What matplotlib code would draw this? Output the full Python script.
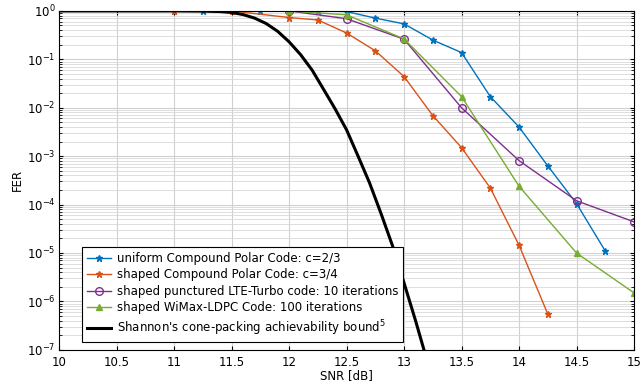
import matplotlib
matplotlib.use("Agg")
import matplotlib.pyplot as plt
from matplotlib.ticker import NullFormatter, LogLocator

plt.rcParams['font.family'] = ['DejaVu Sans']
plt.rcParams['mathtext.fontset'] = 'dejavusans'
plt.rcParams['font.size'] = 8.5

# uniform Compound Polar Code c=2/3
snr_uni = [11.25, 11.5, 11.75, 12.0, 12.25, 12.5, 12.75, 13.0, 13.25, 13.5, 13.75, 14.0, 14.25, 14.5, 14.75]
fer_uni = [1.0, 1.0, 1.0, 1.0, 1.0, 0.97, 0.71, 0.54, 0.25, 0.138, 0.017, 0.004, 6.3e-4, 1.05e-4, 1.1e-5]

# shaped Compound Polar Code c=3/4
snr_sh = [11.0, 11.5, 12.0, 12.25, 12.5, 12.75, 13.0, 13.25, 13.5, 13.75, 14.0, 14.25]
fer_sh = [1.0, 1.0, 0.73, 0.65, 0.35, 0.15, 0.044, 0.0069, 0.0015, 2.2e-4, 1.45e-5, 5.5e-7]

# shaped punctured LTE-Turbo
snr_turbo = [12.0, 12.5, 13.0, 13.5, 14.0, 14.5, 15.0]
fer_turbo = [1.0, 0.69, 0.26, 0.01, 8.1e-4, 1.2e-4, 4.4e-5]

# shaped WiMax-LDPC
snr_ldpc = [12.0, 12.5, 13.0, 13.5, 14.0, 14.5, 15.0]
fer_ldpc = [1.0, 0.83, 0.264, 0.017, 2.4e-4, 1.0e-5, 1.5e-6]

# Shannon cone-packing bound
snr_bound = [10.0, 11.0, 11.25, 11.4, 11.5, 11.6, 11.7, 11.8, 11.9, 12.0, 12.1, 12.2, 12.3, 12.4,
             12.5, 12.6, 12.7, 12.8, 12.9, 13.0, 13.1, 13.2, 13.3]
fer_bound = [1.0, 1.0, 0.99, 0.97, 0.93, 0.84, 0.71, 0.55, 0.38, 0.23, 0.125, 0.06, 0.024, 0.0095,
             0.0035, 1.0e-3, 2.8e-4, 6.5e-5, 1.4e-5, 2.4e-6, 4.0e-7, 6.0e-8, 8.0e-9]

labels = ['uniform Compound Polar Code: c=2/3',
          'shaped Compound Polar Code: c=3/4',
          'shaped punctured LTE-Turbo code: 10 iterations',
          'shaped WiMax-LDPC Code: 100 iterations',
          "Shannon's cone-packing achievability bound$^5$"]

xticks = [10, 10.5, 11, 11.5, 12, 12.5, 13, 13.5, 14, 14.5, 15]
xticklabels = ['10', '10.5', '11', '11.5', '12', '12.5', '13', '13.5', '14', '14.5', '15']
yticks = [1e-7, 1e-6, 1e-5, 1e-4, 1e-3, 1e-2, 1e-1, 1e0]
yticklabels = ['$10^{-7}$', '$10^{-6}$', '$10^{-5}$', '$10^{-4}$', '$10^{-3}$', '$10^{-2}$', '$10^{-1}$', '$10^{0}$']

fig, ax = plt.subplots()
fig.set_size_inches(6.43, 3.9)
fig.subplots_adjust(left=0.092, right=0.986, bottom=0.103, top=0.972)

ax.semilogy(snr_uni, fer_uni, color='#0072BD', marker='*', markersize=4.5, lw=1, label=labels[0])
ax.semilogy(snr_sh, fer_sh, color='#D95319', marker='*', markersize=4.5, lw=1, label=labels[1])
ax.semilogy(snr_turbo, fer_turbo, color='#7E2F8E', marker='o', markersize=5.5, mfc='none', lw=1, label=labels[2])
ax.semilogy(snr_ldpc, fer_ldpc, color='#77AC30', marker='^', markersize=4.5, lw=1, label=labels[3])
ax.semilogy(snr_bound, fer_bound, color='black', lw=2.2, label=labels[4])

ax.set_xlim(10, 15)
ax.set_ylim(1e-7, 1)
ax.set_xticks(xticks)
ax.set_xticklabels(xticklabels)
ax.set_yticks(yticks)
ax.set_yticklabels(yticklabels)
ax.yaxis.set_minor_locator(LogLocator(base=10, subs=range(2, 10), numticks=20))
ax.yaxis.set_minor_formatter(NullFormatter())
ax.tick_params(which='both', direction='in', top=True, right=True)
ax.tick_params(which='major', length=3)
ax.tick_params(axis='x', which='major', pad=4.5)
ax.tick_params(axis='y', which='major', pad=2.5)
ax.tick_params(which='minor', length=2)

ax.grid(True, which='major', color='#d0d0d0', lw=0.8)
ax.grid(True, which='minor', axis='y', color='#d8d8d8', lw=0.6)
ax.set_axisbelow(True)

ax.set_xlabel('SNR [dB]', labelpad=0)
ax.set_ylabel('FER', labelpad=2)

leg = ax.legend(loc='lower left', bbox_to_anchor=(0.03, 0.005), fancybox=False, edgecolor='black',
                framealpha=1, handlelength=2.0, borderpad=0.4, labelspacing=0.3, handletextpad=0.5)
leg.get_frame().set_linewidth(0.8)

fig.savefig('out.png', dpi=100)
